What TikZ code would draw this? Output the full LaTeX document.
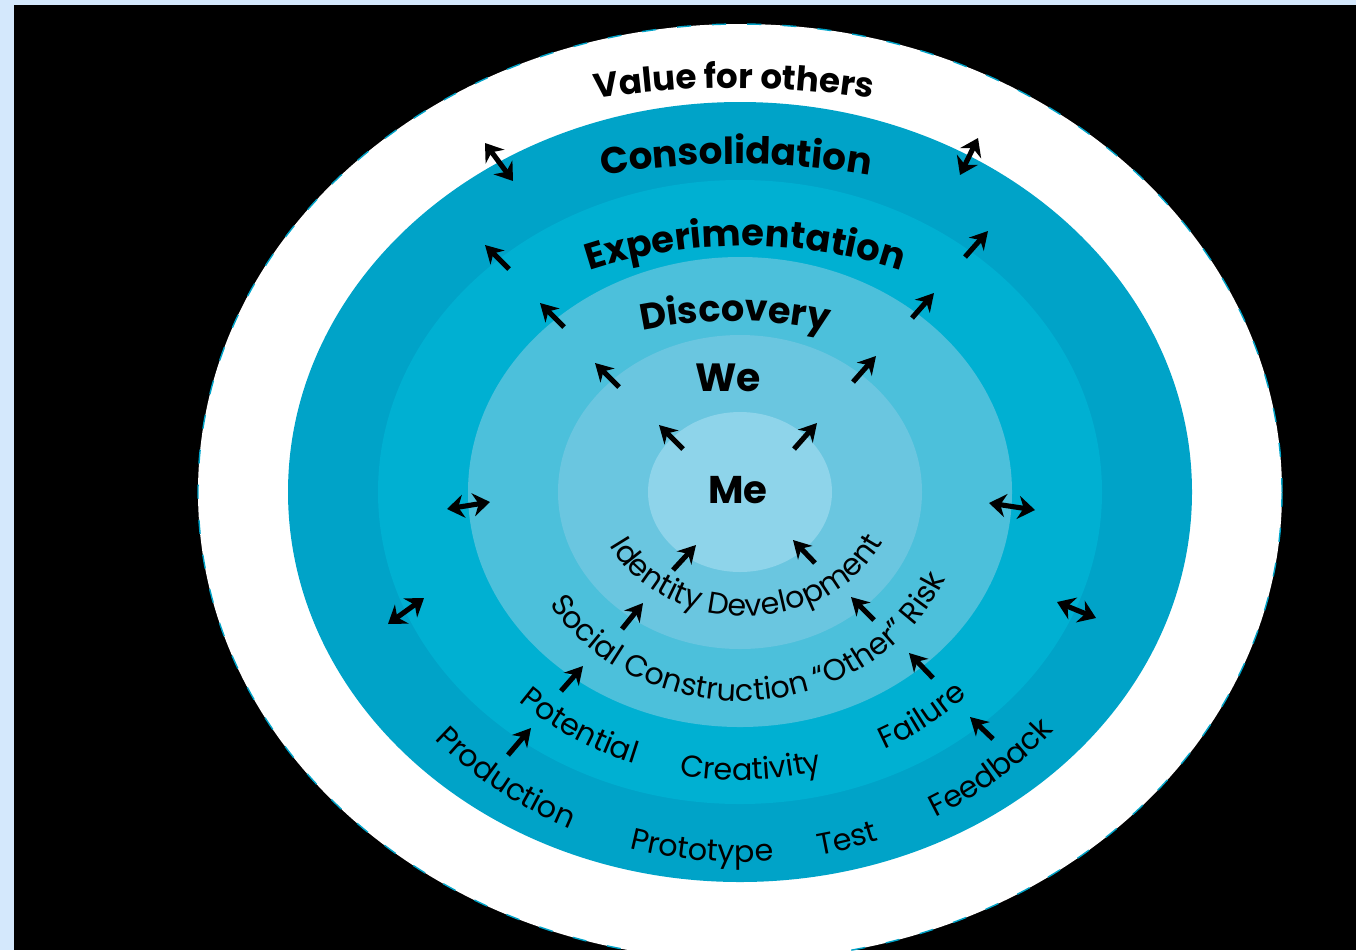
\documentclass[tikz,border=0pt]{standalone}
\usepackage{fontspec}
\setmainfont{Poppins}
\usetikzlibrary{arrows.meta,decorations.text}
\definecolor{bgblue}{RGB}{212,232,252}
\definecolor{ringA}{RGB}{0,163,200}
\definecolor{ringB}{RGB}{0,176,210}
\definecolor{ringC}{RGB}{76,192,219}
\definecolor{ringD}{RGB}{106,198,224}
\definecolor{ringE}{RGB}{142,212,234}

\begin{document}
\begin{tikzpicture}[scale=0.1]
\tikzstyle{every node}+=[inner sep=0pt]
\tikzstyle{arr}=[black, line width=1.45pt, -{Stealth[length=5pt,width=5.6pt]}]
\tikzstyle{dbl}=[black, line width=1.45pt, {Stealth[length=4.8pt,width=6.6pt]}-{Stealth[length=4.8pt,width=6.6pt]}]
\useasboundingbox (0,0) rectangle (135.6,-95);
\fill [bgblue] (0,0) rectangle (135.6,-95);
\fill [black] (1.4,-0.5) rectangle (135.6,-95);
\fill [white] (74,-49.2) ellipse (54.2 and 46.8);
\draw [ringA, line width=0.4pt, dash pattern=on 4pt off 6pt] (74,-49.2) ellipse (54.2 and 46.8);
\fill [ringA] (74,-49.2) ellipse (45.2 and 39);
\fill [ringB] (74,-49.2) ellipse (36.2 and 31.2);
\fill [ringC] (74,-49.2) ellipse (27.2 and 23.5);
\fill [ringD] (74,-49.2) ellipse (18.2 and 15.7);
\fill [ringE] (74,-49.2) ellipse (9.2 and 8);
\path [decorate, decoration={text along path, text align=center, text={|\fontsize{9.7}{12}\selectfont\bfseries|Value for others}}] (73.4,-98.8) ++(105:90) arc (105:75:90);
\path [decorate, decoration={text along path, text align=center, text={|\fontsize{10.6}{13}\selectfont\bfseries|Consolidation}}] (73.6,-96.4) ++(108:80) arc (108:72:80);
\path [decorate, decoration={text along path, text align=center, text={|\fontsize{10.5}{13}\selectfont\bfseries|Experimentation}}] (74.5,-74.6) ++(120:50) arc (120:60:50);
\path [decorate, decoration={text along path, text align=center, text={|\fontsize{10.4}{13}\selectfont\bfseries|Discovery}}] (73.5,-77.1) ++(115:45) arc (115:65:45);
\node (we) at (72.8,-37.8) {\fontsize{11.2}{13}\selectfont\bfseries We};
\node (me) at (73.8,-49.0) {\fontsize{11}{13}\selectfont\bfseries Me};
\path [decorate, decoration={text along path, text align=center, text={|\fontsize{8.6}{10}\selectfont|Identity Development}}] (74.5,-49.2) ++(191:15 and 12.4) arc (191:351:15 and 12.4);
\path [decorate, decoration={text along path, text align=center, text={|\fontsize{8.6}{10}\selectfont|Social Construction “Other” Risk}}] (74,-49.2) ++(194:22.6 and 20.9) arc (194:354:22.6 and 20.9);
\path [decorate, decoration={text along path, text align=center, text={|\fontsize{8.6}{10}\selectfont|Potential}}] (74,-49.2) ++(218:32.2 and 28.8) arc (218:259:32.2 and 28.8);
\path [decorate, decoration={text along path, text align=center, text={|\fontsize{8.6}{10}\selectfont|Creativity}}] (74,-49.2) ++(250:32.2 and 28.8) arc (250:294:32.2 and 28.8);
\path [decorate, decoration={text along path, text align=center, text={|\fontsize{8.6}{10}\selectfont|Failure}}] (74,-49.2) ++(290:32.2 and 28.8) arc (290:322:32.2 and 28.8);
\path [decorate, decoration={text along path, text align=center, text={|\fontsize{8.6}{10}\selectfont|Production}}] (74,-49.2) ++(213.5:41 and 37) arc (213.5:253.5:41 and 37);
\path [decorate, decoration={text along path, text align=center, text={|\fontsize{8.6}{10}\selectfont|Prototype}}] (74,-49.2) ++(246:41 and 37) arc (246:283:41 and 37);
\path [decorate, decoration={text along path, text align=center, text={|\fontsize{8.6}{10}\selectfont|Test}}] (74,-49.2) ++(275:41 and 37) arc (275:296:41 and 37);
\path [decorate, decoration={text along path, text align=center, text={|\fontsize{8.6}{10}\selectfont|Feedback}}] (74,-49.2) ++(289:41 and 37) arc (289:330:41 and 37);
\draw [arr] (50.9,-26.9) -- (48.5,-24.5);
\draw [arr] (56.4,-32.7) -- (54.0,-30.3);
\draw [arr] (61.9,-38.7) -- (59.5,-36.3);
\draw [arr] (68.3,-44.9) -- (65.9,-42.5);
\draw [arr] (96.5,-25.7) -- (98.8,-23.1);
\draw [arr] (91.2,-31.8) -- (93.4,-29.3);
\draw [arr] (85.3,-38.2) -- (87.6,-35.6);
\draw [arr] (79.4,-44.9) -- (81.7,-42.3);
\draw [arr] (67.3,-57.0) -- (69.6,-54.5);
\draw [arr] (62.2,-62.9) -- (64.3,-60.3);
\draw [arr] (56.1,-69.1) -- (58.3,-66.6);
\draw [arr] (50.8,-75.5) -- (53.1,-72.8);
\draw [arr] (81.5,-56.3) -- (79.3,-54.0);
\draw [arr] (87.4,-62.0) -- (85.1,-59.7);
\draw [arr] (93.3,-67.8) -- (90.9,-65.3);
\draw [arr] (99.3,-73.9) -- (97.0,-71.7);
\draw [dbl] (44.7,-50.9) -- (49.0,-50.2);
\draw [dbl] (38.8,-62.4) -- (42.4,-59.8);
\draw [dbl] (98.9,-50.3) -- (103.5,-51.0);
\draw [dbl] (105.7,-60.2) -- (109.6,-61.8);
\draw [dbl] (48.5,-14.3) -- (51.3,-18.1);
\draw [dbl] (97.8,-13.8) -- (96.0,-17.5);
\end{tikzpicture}
\end{document}
